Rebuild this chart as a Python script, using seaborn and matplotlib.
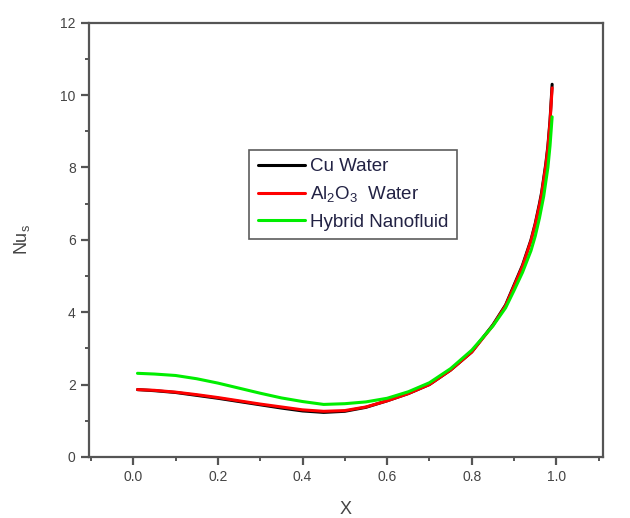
import numpy as np
import pandas as pd
import matplotlib
matplotlib.use("Agg")
import matplotlib.pyplot as plt
import seaborn as sns
from matplotlib.ticker import MultipleLocator

x_vals = [0.01, 0.05, 0.1, 0.15, 0.2, 0.25, 0.3, 0.35, 0.4, 0.45, 0.5, 0.55,
          0.6, 0.65, 0.7, 0.75, 0.8, 0.85, 0.88, 0.9, 0.92, 0.94, 0.95, 0.96,
          0.965, 0.97, 0.975, 0.98, 0.985, 0.99]
cu_water = [1.86, 1.83, 1.78, 1.70, 1.62, 1.53, 1.44, 1.35, 1.27, 1.23, 1.26, 1.37,
            1.55, 1.75, 2.00, 2.40, 2.90, 3.65, 4.20, 4.75, 5.30, 6.00, 6.45, 7.00,
            7.30, 7.70, 8.10, 8.60, 9.30, 10.30]
al2o3_water = [1.86, 1.84, 1.79, 1.72, 1.64, 1.55, 1.46, 1.38, 1.30, 1.26, 1.28, 1.38,
               1.55, 1.75, 2.00, 2.40, 2.90, 3.63, 4.18, 4.72, 5.27, 5.97, 6.42, 6.95,
               7.25, 7.65, 8.05, 8.55, 9.25, 10.20]
hybrid = [2.31, 2.29, 2.25, 2.16, 2.04, 1.90, 1.76, 1.63, 1.53, 1.45, 1.47, 1.52,
          1.62, 1.80, 2.05, 2.44, 2.95, 3.62, 4.12, 4.60, 5.10, 5.70, 6.10, 6.60,
          6.90, 7.20, 7.60, 8.00, 8.60, 9.40]
labels = ["Cu Water", r"Al$_2$O$_3$  Water", "Hybrid Nanofluid"]
colors = ["#000000", "#ff0000", "#00ee00"]

n = len(x_vals)
df = pd.DataFrame({
    "x": x_vals * 3,
    "y": cu_water + al2o3_water + hybrid,
    "series": [labels[0]] * n + [labels[1]] * n + [labels[2]] * n,
})

sns.set_style("white")
plt.rcParams['font.family'] = ['Liberation Sans', 'DejaVu Sans']
plt.rcParams['mathtext.fontset'] = 'custom'
plt.rcParams['mathtext.rm'] = 'Liberation Sans'
plt.rcParams['mathtext.it'] = 'Liberation Sans'

fig = plt.figure(figsize=(6.3, 5.18), dpi=100)
ax = fig.add_axes([0.141, 0.118, 0.816, 0.838])

sns.lineplot(data=df, x="x", y="y", hue="series", palette=dict(zip(labels, colors)),
             hue_order=labels, linewidth=2.2, ax=ax, estimator=None, sort=True)

ax.set_xlim(-0.105, 1.11)
ax.set_ylim(0, 12)
ax.xaxis.set_minor_locator(MultipleLocator(0.1))
ax.yaxis.set_major_locator(MultipleLocator(2))
ax.yaxis.set_minor_locator(MultipleLocator(1))
ax.set_xticks([0.0, 0.2, 0.4, 0.6, 0.8, 1.0])
ax.set_xticklabels(["0.0", "0.2", "0.4", "0.6", "0.8", "1.0"])

spine_c = "#555555"
for s in ax.spines.values():
    s.set_color(spine_c)
    s.set_linewidth(1.6)
ax.tick_params(which="major", direction="out", length=6, width=1.6, color=spine_c,
               labelsize=10, labelcolor="#444444", bottom=True, left=True)
ax.tick_params(which="minor", direction="out", length=3, width=1.4, color=spine_c,
               bottom=True, left=True)

ax.set_xlabel("X", fontsize=13, color="#444444", labelpad=12)
ax.set_ylabel(r"Nu$_{\rm s}$", fontsize=13, color="#444444", labelpad=20)

leg = ax.legend(loc="upper left", bbox_to_anchor=(0.312, 0.708), fontsize=13.5,
                frameon=True, fancybox=False, edgecolor="#333333", handlelength=2.5,
                handletextpad=0.3, borderpad=0.45, labelspacing=0.5, borderaxespad=0)
leg.get_frame().set_linewidth(1.2)
for line in leg.get_lines():
    line.set_linewidth(2.2)
for t in leg.get_texts():
    t.set_color("#222244")

fig.savefig("out.png", dpi=100)
